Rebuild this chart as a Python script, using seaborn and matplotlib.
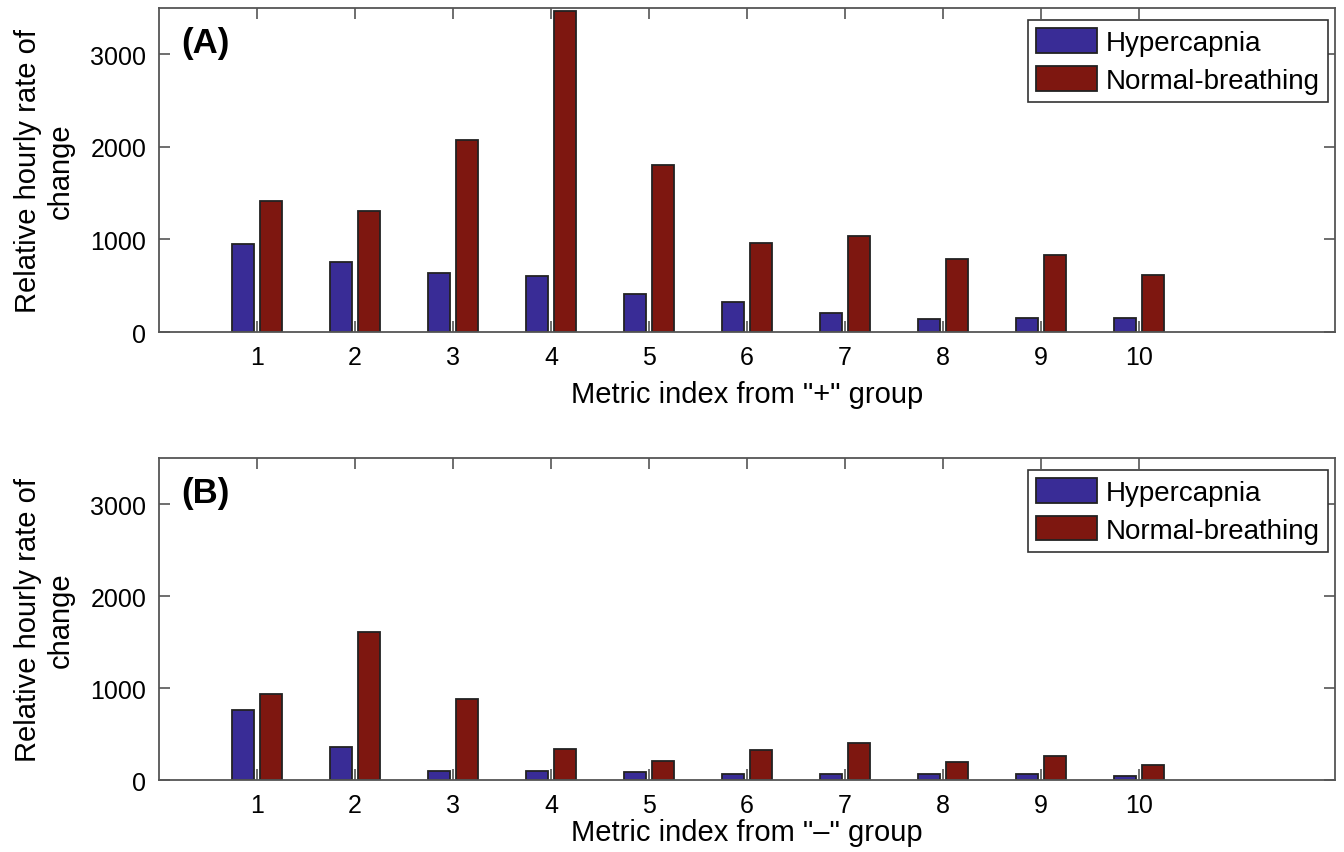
import numpy as np
import pandas as pd
import matplotlib
matplotlib.use("Agg")
import matplotlib.pyplot as plt
import seaborn as sns

metrics = list(range(1, 11))
groups = ["Hypercapnia", "Normal-breathing"]

# panel (A): "+" group
plus_hyper = [955, 760, 635, 600, 415, 322, 206, 145, 149, 150]
plus_normal = [1410, 1302, 2073, 3467, 1808, 965, 1032, 788, 829, 620]

# panel (B): "-" group
minus_hyper = [758, 354, 97, 97, 83, 65, 65, 65, 62, 43]
minus_normal = [932, 1614, 885, 338, 209, 322, 404, 195, 257, 159]

colors = ["#392c96", "#7e1710"]

sns.set_style("ticks")
plt.rcParams['font.family'] = ['Liberation Sans', 'DejaVu Sans']
plt.rcParams['text.color'] = 'black'
plt.rcParams['axes.labelcolor'] = 'black'
plt.rcParams['xtick.labelcolor'] = 'black'
plt.rcParams['ytick.labelcolor'] = 'black'


def to_long(hyper, normal):
    df = pd.DataFrame({'Metric': metrics, groups[0]: hyper, groups[1]: normal})
    return df.melt(id_vars='Metric', var_name='Group', value_name='Rate')


fig = plt.figure(figsize=(13.44, 8.53), dpi=100)
ax_a = fig.add_axes([0.1183, 0.6096, 0.875, 0.3798])
ax_b = fig.add_axes([0.1183, 0.0844, 0.875, 0.3775])

panels = [
    (ax_a, to_long(plus_hyper, plus_normal), '(A)', 'Metric index from "+" group', 8),
    (ax_b, to_long(minus_hyper, minus_normal), '(B)', 'Metric index from "\u2013" group', 1),
]

for ax, df, tag, xlab, xpad in panels:
    sns.barplot(data=df, x='Metric', y='Rate', hue='Group', palette=colors,
                width=0.58, gap=0.22, edgecolor='#222222', linewidth=1.3,
                saturation=1, ax=ax)
    ax.set_xlim(-1, 11)
    ax.set_ylim(0, 3500)
    ax.set_yticks([0, 1000, 2000, 3000])
    ax.set_xlabel(xlab, fontsize=21, labelpad=xpad)
    ax.set_ylabel('Relative hourly rate of\nchange', fontsize=21, labelpad=11,
                  linespacing=1.25)
    ax.tick_params(direction='in', top=True, right=True, length=8, width=1.2,
                   color='#555555', labelsize=18, pad=9)
    for s in ax.spines.values():
        s.set_color('#555555')
        s.set_linewidth(1.3)
        s.set_visible(True)
    ax.text(0.019, 0.945, tag, transform=ax.transAxes, fontsize=25,
            fontweight='bold', va='top', ha='left')
    leg = ax.legend(loc='upper right', bbox_to_anchor=(0.994, 0.964),
                    fontsize=20, frameon=True, fancybox=False,
                    handlelength=2.2, handleheight=1.0, handletextpad=0.3,
                    borderpad=0.3, labelspacing=0.35, borderaxespad=0)
    leg.get_frame().set_edgecolor('#333333')
    leg.get_frame().set_linewidth(1.2)
    leg.get_frame().set_alpha(1)

fig.savefig('out.png', dpi=100)
